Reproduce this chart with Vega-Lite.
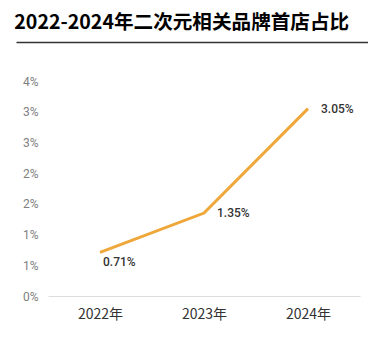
{
  "$schema": "https://vega.github.io/schema/vega-lite/v6.json",
  "padding": {"left": 13, "top": 13, "right": 0, "bottom": 0},
  "background": "white",
  "config": {"view": {"stroke": null}, "concat": {"spacing": 30}},
  "datasets": {
    "d": [
      {"year": "2022年", "v": 0.0071, "label": "0.71%"},
      {"year": "2023年", "v": 0.0135, "label": "1.35%"},
      {"year": "2024年", "v": 0.0305, "label": "3.05%"}
    ],
    "h": [{"t": 0}, {"t": 1}]
  },
  "vconcat": [
    {
      "title": {"text": "2022-2024年二次元相关品牌首店占比", "anchor": "start", "fontSize": 19.6, "font": "Noto Sans CJK SC", "fontWeight": "bold", "color": "#000000", "offset": 5, "dx": 1},
      "width": 312,
      "height": 1,
      "data": {"name": "h"},
      "mark": {"type": "point", "opacity": 0},
      "encoding": {
        "x": {"field": "t", "type": "quantitative", "scale": {"domain": [0, 1], "nice": false, "range": [-32, 320]},
          "axis": {"domainColor": "#333333", "domainWidth": 1.5, "ticks": false, "labels": false, "title": null, "grid": false}}
      }
    },
    {
      "width": 312,
      "height": 215,
      "data": {"name": "d"},
      "encoding": {
        "x": {"field": "year", "type": "ordinal", "scale": {"type": "point", "padding": 0.5},
          "axis": {"title": null, "labelAngle": 0, "domainColor": "#dddddd", "ticks": false, "tickSize": 0, "labelPadding": 11, "labelFontSize": 14, "labelFont": "Noto Sans CJK SC", "labelColor": "#333333", "grid": false}},
        "y": {"field": "v", "type": "quantitative", "scale": {"domain": [0, 0.035], "nice": false},
          "axis": {"title": null, "format": ".0%", "values": [0, 0.005, 0.01, 0.015, 0.02, 0.025, 0.03, 0.035], "domain": false, "ticks": false, "tickSize": 0, "grid": false, "labelPadding": 10, "labelFontSize": 12, "labelFont": "Roboto", "labelColor": "#808080", "minExtent": 32}}
      },
      "layer": [
        {"mark": {"type": "line", "color": "#EFA73A", "strokeWidth": 3}},
        {
          "transform": [{"filter": "datum.year === '2022年'"}],
          "mark": {"type": "text", "align": "left", "baseline": "middle", "dx": 3, "dy": 10, "font": "Roboto", "fontSize": 12, "fontWeight": 500, "color": "#333333"},
          "encoding": {"text": {"field": "label"}}
        },
        {
          "transform": [{"filter": "datum.year !== '2022年'"}],
          "mark": {"type": "text", "align": "left", "baseline": "middle", "dx": 13, "font": "Roboto", "fontSize": 12, "fontWeight": 500, "color": "#333333"},
          "encoding": {"text": {"field": "label"}}
        }
      ]
    }
  ]
}
